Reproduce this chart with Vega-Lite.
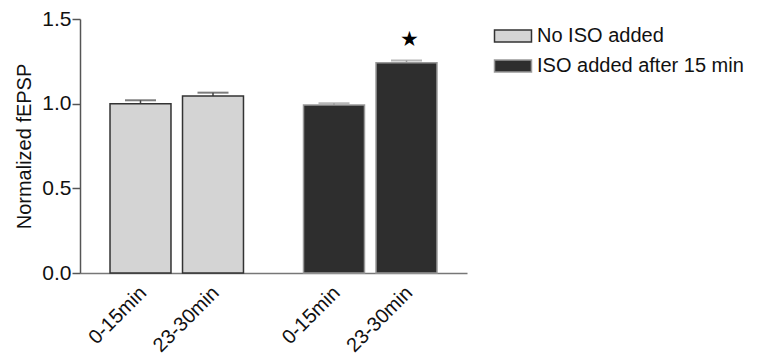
{
  "$schema": "https://vega.github.io/schema/vega-lite/v6.json",
  "width": 387,
  "height": 254,
  "autosize": {"type": "none"},
  "padding": {"left": 80, "top": 19, "right": 293, "bottom": 81},
  "background": "white",
  "config": {
    "view": {"stroke": null},
    "font": "Liberation Sans",
    "axis": {"labelFont": "Liberation Sans", "titleFont": "Liberation Sans", "labelColor": "#111", "titleColor": "#111"},
    "legend": {"labelFont": "Liberation Sans"}
  },
  "data": {
    "values": [
      {"grp": "No ISO added", "time": "0-15min", "value": 1.0, "upper": 1.02, "sig": ""},
      {"grp": "No ISO added", "time": "23-30min", "value": 1.045, "upper": 1.065, "sig": ""},
      {"grp": "ISO added after 15 min", "time": "0-15min", "value": 0.992, "upper": 1.003, "sig": ""},
      {"grp": "ISO added after 15 min", "time": "23-30min", "value": 1.242, "upper": 1.255, "sig": "★"}
    ]
  },
  "encoding": {
    "x": {
      "field": "grp", "type": "nominal",
      "sort": ["No ISO added", "ISO added after 15 min"],
      "scale": {"paddingInner": 0, "paddingOuter": 0},
      "axis": {"labels": false, "ticks": false, "title": null, "domainColor": "#777", "domainWidth": 1.5}
    },
    "xOffset": {
      "field": "time", "type": "nominal",
      "sort": ["0-15min", "23-30min"],
      "scale": {"paddingInner": 0.159, "paddingOuter": 0.414}
    }
  },
  "layer": [
    {
      "mark": {"type": "rule", "strokeWidth": 1.5},
      "encoding": {
        "y": {"field": "value", "type": "quantitative"},
        "y2": {"field": "upper"},
        "color": {"condition": {"test": "datum.grp == 'No ISO added'", "value": "#444444"}, "value": "#999999"}
      }
    },
    {
      "mark": {"type": "tick", "size": 31, "thickness": 2, "orient": "horizontal"},
      "encoding": {
        "y": {"field": "upper", "type": "quantitative"},
        "color": {"condition": {"test": "datum.grp == 'No ISO added'", "value": "#444444"}, "value": "#999999"}
      }
    },
    {
      "mark": {"type": "bar", "strokeWidth": 1.5},
      "encoding": {
        "y": {
          "field": "value", "type": "quantitative",
          "scale": {"domain": [0, 1.5], "nice": false},
          "axis": {
            "values": [0, 0.5, 1.0, 1.5], "format": ".1f",
            "title": "Normalized fEPSP", "titleFontSize": 20, "titleFontWeight": "normal", "titlePadding": 7,
            "labelFontSize": 21, "tickSize": 8, "labelPadding": 1,
            "domainColor": "#555", "tickColor": "#555", "domainWidth": 1.5, "tickWidth": 1.5, "grid": false
          }
        },
        "fill": {
          "field": "grp", "type": "nominal",
          "scale": {"domain": ["No ISO added", "ISO added after 15 min"], "range": ["#d4d4d4", "#2e2e2e"]},
          "legend": {
            "title": null, "orient": "none", "legendX": 423, "legendY": 7,
            "labelFontSize": 20, "labelColor": "#111", "labelOffset": 14, "labelLimit": 400,
            "symbolType": "M-2,-0.64H2V0.64H-2Z", "symbolSize": 342, "symbolStrokeWidth": 1.5,
            "rowPadding": 10
          }
        },
        "stroke": {
          "field": "grp", "type": "nominal",
          "scale": {"domain": ["No ISO added", "ISO added after 15 min"], "range": ["#333333", "#999999"]},
          "legend": {
            "title": null, "orient": "none", "legendX": 423, "legendY": 7,
            "labelFontSize": 20, "labelColor": "#111", "labelOffset": 14, "labelLimit": 400,
            "symbolType": "M-2,-0.64H2V0.64H-2Z", "symbolSize": 342, "symbolStrokeWidth": 1.5,
            "rowPadding": 10
          }
        }
      }
    },
    {
      "transform": [{"filter": "datum.sig != ''"}],
      "mark": {"type": "text", "font": "DejaVu Sans", "fontSize": 21, "dx": 3, "dy": -20, "baseline": "middle", "color": "#000"},
      "encoding": {
        "y": {"field": "upper", "type": "quantitative"},
        "text": {"field": "sig"}
      }
    },
    {
      "mark": {"type": "text", "angle": -45, "align": "right", "baseline": "middle", "fontSize": 20, "dx": 2, "dy": 2, "color": "#111"},
      "encoding": {
        "y": {"datum": -0.1},
        "text": {"field": "time"}
      }
    }
  ]
}
